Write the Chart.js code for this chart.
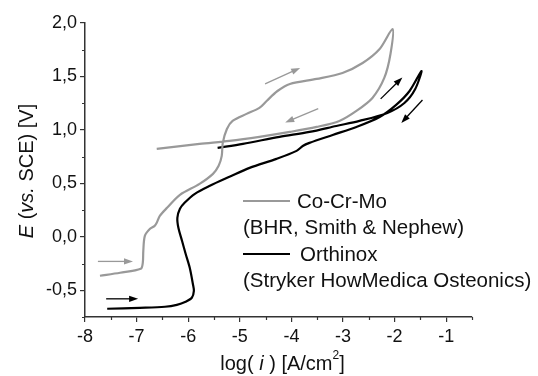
<!DOCTYPE html>
<html>
<head>
<meta charset="utf-8">
<script src="https://cdn.jsdelivr.net/npm/chart.js@4"></script>
<style>
  html, body { margin: 0; padding: 0; background: #fff; }
  #wrap { width: 538px; height: 376px; }
</style>
</head>
<body>
<div id="wrap"><canvas id="pol"></canvas></div>
<script>
"use strict";

// polarisation loops, log(i) vs E (forward scan then reverse)
const coCrMoLogI = [-7.71, -7.32, -6.92, -6.88, -6.87, -6.84, -6.74, -6.65, -6.61, -6.55, -6.41, -6.16,
  -5.78, -5.52, -5.41, -5.35, -5.33, -5.25, -5.14, -4.87, -4.62, -4.48, -4.27, -4.03, -3.51, -3.01,
  -2.62, -2.29, -2.04,
  -2.08, -2.20, -2.43, -2.74, -3.07, -3.51, -4.03, -4.62, -5.20, -5.78, -6.61];
const coCrMoE = [-0.364, -0.336, -0.299, -0.243, -0.131, 0.009, 0.075, 0.103, 0.131, 0.196, 0.271, 0.393,
  0.495, 0.589, 0.664, 0.757, 0.879, 1.009, 1.084, 1.150, 1.206, 1.271, 1.364, 1.430, 1.477, 1.533,
  1.626, 1.757, 1.944,
  1.710, 1.486, 1.299, 1.178, 1.084, 1.028, 0.981, 0.935, 0.897, 0.869, 0.822];

const orthinoxLogI = [-7.57, -6.94, -6.45, -6.22, -6.05, -5.93, -5.89, -5.91, -5.97, -6.05, -6.12, -6.19,
  -6.21, -6.16, -6.07, -5.87, -5.58, -5.20, -4.81, -4.29, -3.90, -3.78, -3.65, -3.20, -2.74, -2.29,
  -1.97, -1.71, -1.48,
  -1.60, -1.81, -2.14, -2.68, -3.13, -3.65, -4.23, -4.94, -5.43];
const orthinoxE = [-0.673, -0.664, -0.654, -0.636, -0.607, -0.570, -0.505, -0.439, -0.290, -0.159, -0.037, 0.084,
  0.178, 0.262, 0.318, 0.402, 0.477, 0.561, 0.645, 0.729, 0.804, 0.850, 0.879, 0.953, 1.028, 1.121,
  1.234, 1.364, 1.551,
  1.383, 1.252, 1.159, 1.084, 1.037, 0.981, 0.935, 0.869, 0.832];

const xTicks = [-8, -7, -6, -5, -4, -3, -2, -1];
const xMinorTicks = [-7.5, -6.5, -5.5, -4.5, -3.5, -2.5, -1.5, -0.5];
const yTicks = [-0.5, 0, 0.5, 1.0, 1.5, 2.0];
const yMinorTicks = [-0.75, -0.25, 0.25, 0.75, 1.25, 1.75];

// scan direction arrows: [x0, E0, x1, E1, colour]
const scanArrows = [
  [-7.75, -0.23, -7.07, -0.23, "#999"],
  [-7.59, -0.58, -6.97, -0.58, "#000"],
  [-4.51, 1.43, -3.83, 1.58, "#999"],
  [-3.48, 1.20, -4.12, 1.07, "#999"],
  [-2.27, 1.29, -1.85, 1.49, "#000"],
  [-1.46, 1.28, -1.87, 1.065, "#000"]
];

const FONT = "'Liberation Sans', Arial, sans-serif";

function toPoints(xs, ys) {
  return xs.map(function (x, i) { return { x: x, y: ys[i] }; });
}

// draw a run of text pieces, some italic or superscript, centred on (cx, cy)
function richText(ctx, parts, cx, cy, size) {
  const fontOf = function (p) {
    return (p.it ? "italic " : "") + (p.sup ? Math.round(size * 0.62) : size) + "px " + FONT;
  };
  let total = 0;
  parts.forEach(function (p) { ctx.font = fontOf(p); total += ctx.measureText(p.t).width; });
  let x = cx - total / 2;
  ctx.textBaseline = "middle";
  ctx.textAlign = "left";
  parts.forEach(function (p) {
    ctx.font = fontOf(p);
    ctx.fillText(p.t, x, p.sup ? cy - size * 0.42 : cy);
    x += ctx.measureText(p.t).width;
  });
}

const extras = {
  id: "extras",
  afterDraw(chart) {
    const ctx = chart.ctx;
    const xs = chart.scales.x, ys = chart.scales.y;
    const area = chart.chartArea;
    ctx.save();

    // minor ticks
    ctx.strokeStyle = "#333";
    ctx.lineWidth = 1.2;
    ctx.beginPath();
    xMinorTicks.forEach(function (v) {
      const px = Math.round(xs.getPixelForValue(v)) + 0.5;
      ctx.moveTo(px, area.bottom); ctx.lineTo(px, area.bottom + 3);
    });
    yMinorTicks.forEach(function (v) {
      const py = Math.round(ys.getPixelForValue(v)) + 0.5;
      ctx.moveTo(area.left - 3, py); ctx.lineTo(area.left, py);
    });
    ctx.stroke();

    // arrows
    scanArrows.forEach(function (a) {
      const x0 = xs.getPixelForValue(a[0]), y0 = ys.getPixelForValue(a[1]);
      const x1 = xs.getPixelForValue(a[2]), y1 = ys.getPixelForValue(a[3]);
      const ang = Math.atan2(y1 - y0, x1 - x0);
      ctx.strokeStyle = a[4];
      ctx.fillStyle = a[4];
      ctx.lineWidth = 1.3;
      ctx.beginPath();
      ctx.moveTo(x0, y0);
      ctx.lineTo(x1 - 6 * Math.cos(ang), y1 - 6 * Math.sin(ang));
      ctx.stroke();
      ctx.beginPath();
      ctx.moveTo(x1, y1);
      ctx.lineTo(x1 - 9 * Math.cos(ang) + 3.2 * Math.sin(ang), y1 - 9 * Math.sin(ang) - 3.2 * Math.cos(ang));
      ctx.lineTo(x1 - 9 * Math.cos(ang) - 3.2 * Math.sin(ang), y1 - 9 * Math.sin(ang) + 3.2 * Math.cos(ang));
      ctx.closePath();
      ctx.fill();
    });

    // legend
    const lx = area.left + 158, ly = area.top + 178;
    const rows = [
      { line: "#999", label: "Co-Cr-Mo", gap: 7 },
      { text: "(BHR, Smith & Nephew)" },
      { line: "#000", label: "Orthinox", gap: 10 },
      { text: "(Stryker HowMedica Osteonics)" }
    ];
    ctx.font = "20.5px " + FONT;
    ctx.textBaseline = "middle";
    ctx.textAlign = "left";
    ctx.fillStyle = "#111";
    rows.forEach(function (r, i) {
      const y = ly + i * 26.5;
      if (r.line) {
        ctx.strokeStyle = r.line;
        ctx.lineWidth = 2;
        ctx.beginPath();
        ctx.moveTo(lx, y); ctx.lineTo(lx + 47, y);
        ctx.stroke();
        ctx.fillText(r.label, lx + 47 + r.gap, y + 1);
      } else {
        ctx.fillText(r.text, lx, y + 1);
      }
    });

    // axis titles
    ctx.fillStyle = "#111";
    richText(ctx, [{ t: "log( " }, { t: "i", it: true }, { t: " ) [A/cm" }, { t: "2", sup: true }, { t: "]" }],
      (area.left + area.right) / 2 + 4, area.bottom + 47, 20);
    ctx.translate(27, (area.top + area.bottom) / 2 + 1);
    ctx.rotate(-Math.PI / 2);
    richText(ctx, [{ t: "E", it: true }, { t: " (" }, { t: "vs.", it: true }, { t: " SCE) [V]" }], 0, 0, 20);

    ctx.restore();
  }
};

const ctx = document.getElementById("pol");

const polChart = new Chart(ctx, {
  type: "scatter",
  data: {
    datasets: [
      {
        label: "Co-Cr-Mo (BHR, Smith & Nephew)",
        data: toPoints(coCrMoLogI, coCrMoE),
        showLine: true,
        borderColor: "#999",
        borderWidth: 2.2,
        pointRadius: 0,
        tension: 0.3,
      },
      {
        label: "Orthinox (Stryker HowMedica Osteonics)",
        data: toPoints(orthinoxLogI, orthinoxE),
        showLine: true,
        borderColor: "#000",
        borderWidth: 2.2,
        pointRadius: 0,
        tension: 0.3,
      },
    ],
  },
  options: {
    responsive: true,
    maintainAspectRatio: false,
    animation: false,
    layout: { padding: { top: 23, right: 66, left: 0, bottom: 0 } },
    plugins: { legend: { display: false }, tooltip: { enabled: false } },
    scales: {
      x: {
        type: "linear",
        min: -8,
        max: -0.5,
        afterBuildTicks: function (s) { s.ticks = xTicks.map(function (v) { return { value: v }; }); },
        afterFit: function (s) { s.height = 59; },
        grid: { drawOnChartArea: false, drawTicks: true, tickLength: 5, color: "#333", lineWidth: 1.2 },
        border: { display: true, color: "#333", width: 1.5 },
        ticks: {
          autoSkip: false,
          maxRotation: 0,
          padding: 4,
          color: "#111",
          font: { family: FONT, size: 18 },
          callback: function (v) { return String(v); },
        },
      },
      y: {
        type: "linear",
        min: -0.75,
        max: 2.0,
        afterBuildTicks: function (s) { s.ticks = yTicks.map(function (v) { return { value: v }; }); },
        afterFit: function (s) { s.width = 85; },
        grid: { drawOnChartArea: false, drawTicks: true, tickLength: 5, color: "#333", lineWidth: 1.2 },
        border: { display: true, color: "#333", width: 1.5 },
        ticks: {
          autoSkip: false,
          padding: 3,
          color: "#111",
          font: { family: FONT, size: 18 },
          callback: function (v) { return v.toFixed(1).replace(".", ","); },
        },
      },
    },
  },
  plugins: [extras],
});
</script>
</body>
</html>
